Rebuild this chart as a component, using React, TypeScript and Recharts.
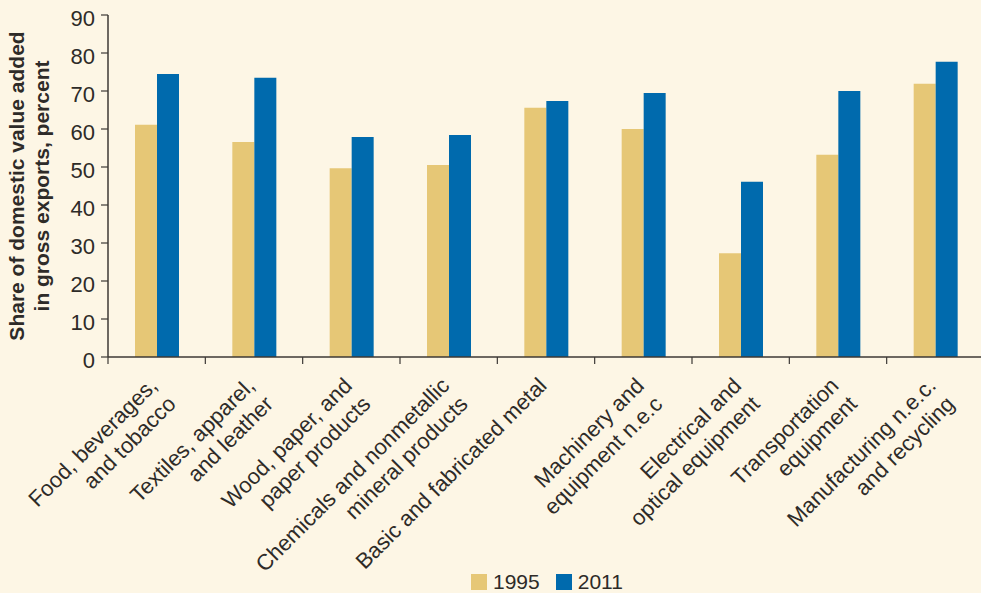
import { BarChart, Bar, XAxis, YAxis, Label } from 'recharts'

const categories = [
  'Food, beverages,\nand tobacco',
  'Textiles, apparel,\nand leather',
  'Wood, paper, and\npaper products',
  'Chemicals and nonmetallic\nmineral products',
  'Basic and fabricated metal',
  'Machinery and\nequipment n.e.c',
  'Electrical and\noptical equipment',
  'Transportation\nequipment',
  'Manufacturing n.e.c.\nand recycling',
]
const values1995 = [61.1, 56.6, 49.7, 50.5, 65.6, 60.0, 27.3, 53.2, 71.9]
const values2011 = [74.5, 73.5, 57.9, 58.4, 67.4, 69.5, 46.1, 70.0, 77.7]
const yTicks = [0, 10, 20, 30, 40, 50, 60, 70, 80, 90]
const seriesNames = ['1995', '2011']
const yLabelLines = ['Share of domestic value added', 'in gross exports, percent']

const BG = '#FDF6E5'
const TEXT = '#2e2b28'
const AXIS = '#3d3935'
const YELLOW = '#E6C776'
const BLUE = '#006AAD'
const FONT = '"Liberation Sans", Arial, sans-serif'

const CHART_W = 984
const CHART_H = 593
const Y_AXIS_W = 108
const PLOT_W = CHART_W - Y_AXIS_W

const data = categories.map((name, i) => ({
  name,
  [seriesNames[0]]: values1995[i],
  [seriesNames[1]]: values2011[i],
}))

// ticks sit on the band edges, labels hang off the band centre
const XTick = (props: any) => {
  const { x, y, payload } = props
  const lines = String(payload.value).split('\n')
  const band = PLOT_W / categories.length
  const ax = x + 2
  const ay = y + 30
  return (
    <g>
      <line x1={x - band / 2} x2={x - band / 2} y1={y} y2={y + 7} stroke={AXIS} strokeWidth={1.2} />
      <text
        x={ax}
        y={ay}
        transform={`rotate(-45, ${ax}, ${ay})`}
        textAnchor="end"
        fontSize={22}
        fontFamily={FONT}
        fill={TEXT}
      >
        {lines.map((l, i) => (
          <tspan key={i} x={ax} dy={i === 0 ? 0 : 26}>
            {l}
          </tspan>
        ))}
      </text>
    </g>
  )
}

const YTick = (props: any) => {
  const { x, y, payload } = props
  return (
    <text x={x} y={y} dy={11} textAnchor="end" fontSize={22} fontFamily={FONT} fill={TEXT}>
      {payload.value}
    </text>
  )
}

const renderYLabel = () => (
  <g>
    {yLabelLines.map((l, i) => (
      <text
        key={i}
        x={24 + i * 25}
        y={186}
        transform={`rotate(-90, ${24 + i * 25}, 186)`}
        textAnchor="middle"
        fontSize={21}
        fontWeight="bold"
        fontFamily={FONT}
        fill={TEXT}
      >
        {l}
      </text>
    ))}
  </g>
)

export default function App() {
  return (
    <div
      style={{
        position: 'absolute',
        left: 0,
        top: 0,
        width: 981,
        height: 593,
        overflow: 'hidden',
        background: BG,
        fontFamily: FONT,
      }}
    >
      <BarChart
        width={CHART_W}
        height={CHART_H}
        data={data}
        margin={{ top: 15, right: 0, left: 0, bottom: 0 }}
        barCategoryGap={27}
        barGap={0}
      >
        <XAxis
          dataKey="name"
          height={236}
          interval={0}
          tick={<XTick />}
          tickLine={false}
          tickSize={0}
          tickMargin={0}
          axisLine={{ stroke: AXIS, strokeWidth: 1.5 }}
        />
        <YAxis
          width={Y_AXIS_W}
          domain={[0, 90]}
          ticks={yTicks}
          interval={0}
          tick={<YTick />}
          tickSize={7}
          tickMargin={6}
          tickLine={{ stroke: AXIS, strokeWidth: 1.2 }}
          axisLine={{ stroke: AXIS, strokeWidth: 1.5 }}
        >
          <Label content={renderYLabel} />
        </YAxis>
        <Bar dataKey={seriesNames[0]} fill={YELLOW} isAnimationActive={false} />
        <Bar dataKey={seriesNames[1]} fill={BLUE} isAnimationActive={false} />
      </BarChart>
      <div
        style={{
          position: 'absolute',
          left: 471,
          top: 574,
          display: 'flex',
          alignItems: 'center',
          height: 16,
          fontSize: 21,
          color: TEXT,
        }}
      >
        {seriesNames.map((s, i) => (
          <div key={s} style={{ display: 'flex', alignItems: 'center', marginRight: i === 0 ? 16 : 0 }}>
            <div style={{ width: 16, height: 16, background: i === 0 ? YELLOW : BLUE, marginRight: 6 }} />
            <span style={{ lineHeight: '16px' }}>{s}</span>
          </div>
        ))}
      </div>
    </div>
  )
}
